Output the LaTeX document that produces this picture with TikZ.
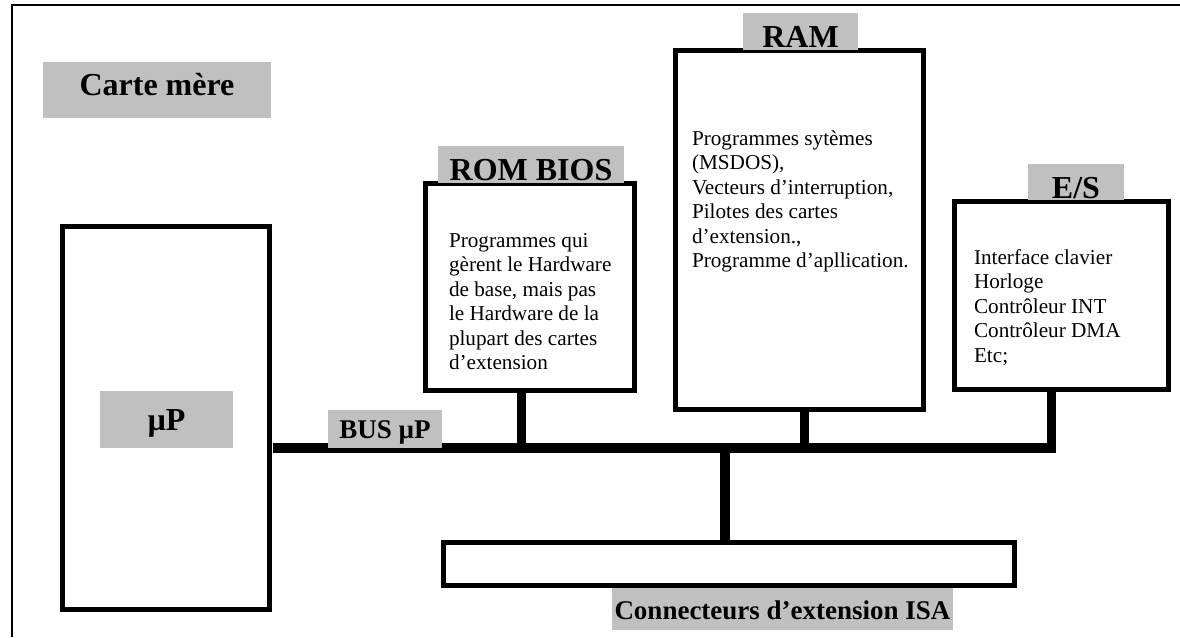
\documentclass[tikz,border=0pt]{standalone}
\usepackage{fontspec}
\setmainfont{Liberation Serif}
\definecolor{labgray}{RGB}{192,192,192}
\newcommand\bodylines[2]{\parbox[t]{#1pt}{\fontsize{21.2}{24.5}\selectfont\raggedright #2}}
\begin{document}
\begin{tikzpicture}[x=1pt,y=-1pt,
  boxst/.style={draw=black, line width=5pt, fill=white, inner sep=0pt, outer sep=0pt},
  greylab/.style={fill=labgray, inner sep=0pt, outer sep=0pt, text depth=0pt, font=\bfseries\fontsize{32}{38}\selectfont},
  greysmall/.style={greylab, font=\bfseries\fontsize{27}{32}\selectfont},
  stub/.style={line width=9pt},
  busline/.style={line width=10pt},
  body/.style={anchor=base west, inner sep=0pt, outer sep=0pt}]
\useasboundingbox (0,0) rectangle (1180,637);
% frame
\coordinate (fb) at (12,637);
\coordinate (ftl) at (12,5);
\coordinate (ftr) at (1180,5);
\draw[line width=2pt] (fb) -- (ftl) -- (ftr);

% label carte mere
\node[greylab, text height=10pt, minimum width=228, minimum height=56] (carte) at (157,90) {Carte mère};

% boxes
\node[boxst, minimum width=207, minimum height=383] (up) at (166,418) {};
\node[boxst, minimum width=209, minimum height=207] (rom) at (530,287) {};
\node[boxst, minimum width=248, minimum height=359] (ram) at (799.5,230) {};
\node[boxst, minimum width=214, minimum height=188] (es) at (1061.5,295.5) {};
\node[boxst, minimum width=571, minimum height=43] (isa) at (729,564) {};

% bus
\coordinate (busL) at (273,448);
\coordinate (busR) at (1055,448);
\draw[busline] (busL) -- (busR);

% stubs
\coordinate (romT) at (521,390.5);
\coordinate (romB) at (521,448);
\coordinate (ramT) at (804,409.5);
\coordinate (ramB) at (804,448);
\coordinate (esT) at (1051,389.5);
\coordinate (esB) at (1051,453);
\coordinate (isaT) at (725,448);
\coordinate (isaB) at (725,542.5);
\draw[stub] (romT) -- (romB);
\draw[stub] (ramT) -- (ramB);
\draw[stub] (esT) -- (esB);
\draw[busline] (isaT) -- (isaB);

% grey labels
\node[greylab, text height=21pt, minimum width=133, minimum height=57] (uplab) at (166.5,419.5) {µP};
\node[greysmall, text height=18pt, minimum width=114, minimum height=38] (buslab) at (385,429) {BUS µP};
\node[greylab, text height=31pt, minimum width=186, minimum height=37] (romlab) at (531,164.5) {ROM BIOS};
\node[greylab, text height=31pt, minimum width=115, minimum height=37] (ramlab) at (800.5,31.5) {RAM};
\node[greylab, text height=32pt, minimum width=96, minimum height=36] (eslab) at (1076,182) {E/S};
\node[greysmall, text height=20pt, minimum width=341, minimum height=42] (isalab) at (782.5,609) {Connecteurs d’extension ISA};

% body texts
\node[body] (romtxt) at (449,247) {\bodylines{178}{Programmes qui\\gèrent le Hardware\\de base, mais pas\\le Hardware de la\\plupart des cartes\\d’extension}};
\node[body] (ramtxt) at (692,145) {\bodylines{225}{Programmes sytèmes\\(MSDOS),\\Vecteurs d’interruption,\\Pilotes des cartes\\d’extension.,\\Programme d’apllication.}};
\node[body] (estxt) at (974,264) {\bodylines{170}{Interface clavier\\Horloge\\Contrôleur INT\\Contrôleur DMA\\Etc;}};
\end{tikzpicture}
\end{document}
